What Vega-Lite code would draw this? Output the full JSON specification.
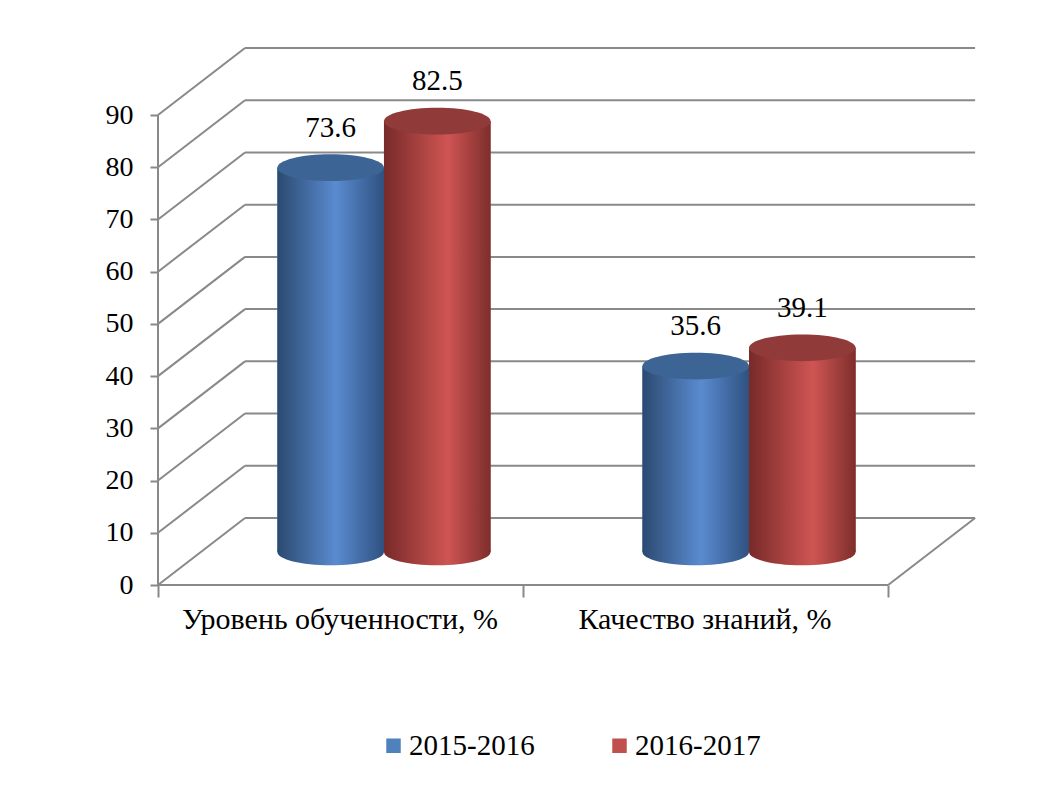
{
  "$schema": "https://vega.github.io/schema/vega-lite/v6.json",
  "width": 817,
  "height": 537,
  "autosize": {"type": "none"},
  "padding": {"left": 158, "top": 48, "right": 89, "bottom": 214},
  "background": "white",
  "config": {
    "view": {"stroke": null},
    "font": "'Liberation Serif', 'Times New Roman', serif",
    "axis": {"labelFont": "'Liberation Serif', 'Times New Roman', serif", "labelColor": "#000000"},
    "legend": {"labelFont": "'Liberation Serif', 'Times New Roman', serif", "labelColor": "#000000"},
    "text": {"font": "'Liberation Serif', 'Times New Roman', serif"}
  },
  "datasets": {
    "scores": [
      {"category": "Уровень обученности, %", "year": "2015-2016", "value": 73.6},
      {"category": "Уровень обученности, %", "year": "2016-2017", "value": 82.5},
      {"category": "Качество знаний, %", "year": "2015-2016", "value": 35.6},
      {"category": "Качество знаний, %", "year": "2016-2017", "value": 39.1}
    ],
    "ticks": [
      {"v": 0}, {"v": 10}, {"v": 20}, {"v": 30}, {"v": 40},
      {"v": 50}, {"v": 60}, {"v": 70}, {"v": 80}, {"v": 90}
    ]
  },
  "resolve": {"scale": {"x": "independent"}},
  "layer": [
    {
      "data": {"name": "ticks"},
      "layer": [
        {
          "mark": {"type": "rule", "color": "#898989", "strokeWidth": 2, "xOffset": 87, "x2Offset": 87, "yOffset": -67},
          "encoding": {
            "x": {
              "datum": 0, "type": "quantitative",
              "scale": {"domain": [0, 2.238], "nice": false, "zero": false},
              "axis": {"orient": "bottom", "values": [0, 1, 2], "labels": false, "domain": false, "grid": false, "tickSize": 12, "tickColor": "#898989", "tickWidth": 2, "title": null}
            },
            "x2": {"datum": 2},
            "y": {
              "field": "v", "type": "quantitative",
              "scale": {"domain": [0, 102.83], "nice": false, "zero": false},
              "axis": {"values": [0, 10, 20, 30, 40, 50, 60, 70, 80, 90], "domain": false, "grid": false, "tickSize": 8, "tickColor": "#898989", "tickWidth": 2, "labelFontSize": 28, "labelPadding": 17, "title": null}
            }
          }
        },
        {
          "mark": {"type": "rule", "color": "#898989", "strokeWidth": 2, "x2Offset": 87, "y2Offset": -67},
          "encoding": {
            "x": {"datum": 0, "type": "quantitative"},
            "x2": {"datum": 0},
            "y": {"field": "v", "type": "quantitative"},
            "y2": {"field": "v"}
          }
        },
        {
          "data": {"values": [{}]},
          "mark": {"type": "rule", "color": "#898989", "strokeWidth": 2},
          "encoding": {
            "x": {"datum": 0, "type": "quantitative"},
            "x2": {"datum": 2},
            "y": {"datum": 0, "type": "quantitative"}
          }
        },
        {
          "data": {"values": [{}]},
          "mark": {"type": "rule", "color": "#898989", "strokeWidth": 2, "x2Offset": 87, "y2Offset": -67},
          "encoding": {
            "x": {"datum": 2, "type": "quantitative"},
            "x2": {"datum": 2},
            "y": {"datum": 0, "type": "quantitative"},
            "y2": {"datum": 0}
          }
        },
        {
          "data": {"values": [{}]},
          "mark": {"type": "rule", "color": "#898989", "strokeWidth": 2},
          "encoding": {
            "x": {"datum": 0, "type": "quantitative"},
            "y": {"datum": 0, "type": "quantitative"},
            "y2": {"datum": 90}
          }
        }
      ]
    },
    {
      "data": {"name": "scores"},
      "encoding": {
        "x": {
          "field": "category", "type": "nominal",
          "scale": {"domain": ["Уровень обученности, %", "Качество знаний, %"], "paddingInner": 0.416, "paddingOuter": 0.327},
          "axis": {"orient": "bottom", "title": null, "domain": false, "ticks": false, "grid": false, "labelAngle": 0, "labelFontSize": 30, "labelOffset": -44, "labelPadding": 19, "labelLimit": 0}
        },
        "xOffset": {"field": "year", "type": "nominal", "scale": {"paddingInner": 0, "paddingOuter": 0}},
        "y": {"field": "value", "type": "quantitative", "scale": {"domain": [0, 102.83], "nice": false, "zero": false}}
      },
      "layer": [
        {
          "mark": {"type": "point", "shape": "M-1,0A1,0.25,0,1,0,1,0A1,0.25,0,1,0,-1,0Z", "size": 11364, "filled": true, "opacity": 1, "strokeWidth": 0, "yOffset": -33},
          "encoding": {
            "y": {"datum": 0, "type": "quantitative"},
            "fill": {
              "condition": {"test": "datum.year === '2015-2016'", "value": {"gradient": "linear", "x1": 0, "y1": 0, "x2": 1, "y2": 0, "stops": [{"offset": 0, "color": "#2b4a70"}, {"offset": 0.55, "color": "#5a8bd0"}, {"offset": 1, "color": "#2f5180"}]}},
              "value": {"gradient": "linear", "x1": 0, "y1": 0, "x2": 1, "y2": 0, "stops": [{"offset": 0, "color": "#772a29"}, {"offset": 0.6, "color": "#cf5553"}, {"offset": 1, "color": "#7d2e2c"}]}
            }
          }
        },
        {
          "mark": {"type": "bar", "yOffset": -33, "y2Offset": -33},
          "encoding": {
            "y2": {"datum": 0},
            "color": {
              "field": "year", "type": "nominal",
              "scale": {"domain": ["2015-2016", "2016-2017"], "range": ["#4F81BD", "#C0504D"]},
              "legend": {"orient": "none", "legendX": 221, "legendY": 683, "direction": "horizontal", "title": null, "labelFontSize": 29, "symbolType": "square", "symbolSize": 210, "symbolStrokeWidth": 0, "labelOffset": 1, "columnPadding": 70}
            }
          }
        },
        {
          "mark": {"type": "bar", "yOffset": -33, "y2Offset": -33},
          "encoding": {
            "y2": {"datum": 0},
            "fill": {
              "condition": {"test": "datum.year === '2015-2016'", "value": {"gradient": "linear", "x1": 0, "y1": 0, "x2": 1, "y2": 0, "stops": [{"offset": 0, "color": "#2b4a70"}, {"offset": 0.55, "color": "#5a8bd0"}, {"offset": 1, "color": "#2f5180"}]}},
              "value": {"gradient": "linear", "x1": 0, "y1": 0, "x2": 1, "y2": 0, "stops": [{"offset": 0, "color": "#772a29"}, {"offset": 0.6, "color": "#cf5553"}, {"offset": 1, "color": "#7d2e2c"}]}
            }
          }
        },
        {
          "mark": {"type": "point", "shape": "M-1,0A1,0.25,0,1,0,1,0A1,0.25,0,1,0,-1,0Z", "size": 11364, "filled": true, "opacity": 1, "strokeWidth": 0, "yOffset": -33},
          "encoding": {
            "fill": {"condition": {"test": "datum.year === '2015-2016'", "value": "#3c6596"}, "value": "#903b39"}
          }
        },
        {
          "mark": {"type": "text", "fontSize": 29, "yOffset": -73, "xOffset": 4, "baseline": "middle", "color": "#000000"},
          "encoding": {
            "text": {"field": "value", "type": "quantitative", "format": ".1f"}
          }
        }
      ]
    }
  ]
}
